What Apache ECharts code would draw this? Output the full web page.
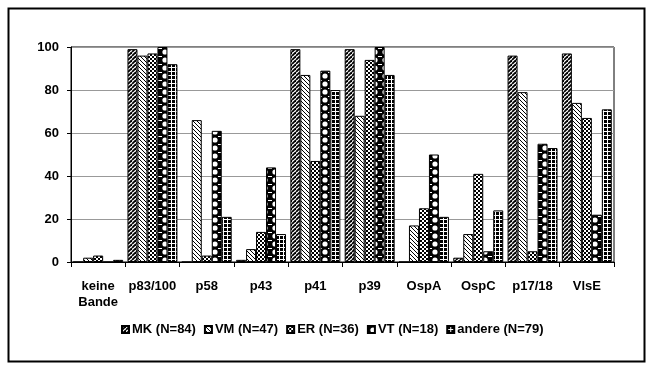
<!DOCTYPE html>
<html><head><meta charset="utf-8">
<script src="https://cdn.jsdelivr.net/npm/echarts@6/dist/echarts.min.js"></script>
<style>html,body{margin:0;padding:0;background:#fff}#c{width:658px;height:375px}</style>
</head><body><div id="c"></div>
<script>
const categories = ['keine\nBande','p83/100','p58','p43','p41','p39','OspA','OspC','p17/18','VlsE'];
const seriesNames = ['MK (N=84)','VM (N=47)','ER (N=36)','VT (N=18)','andere (N=79)'];
const MK     = [0, 99, 0, 1, 99, 99, 0, 2, 96, 97];
const VM     = [2, 96, 66, 6, 87, 68, 17, 13, 79, 74];
const ER     = [3, 97, 3, 14, 47, 94, 25, 41, 5, 67];
const VT     = [0, 100, 61, 44, 89, 100, 50, 5, 55, 22];
const andere = [1, 92, 21, 13, 80, 87, 21, 24, 53, 71];
const yTicks = [0, 20, 40, 60, 80, 100];

function mk(w,h,draw){const c=document.createElement('canvas');c.width=w;c.height=h;const g=c.getContext('2d');draw(g,w,h);return {image:c,repeat:'repeat'};}
const patMK = mk(4,4,(g)=>{g.fillStyle='#fff';g.fillRect(0,0,4,4);g.strokeStyle='#000';g.lineWidth=1.8;
  for(let k=-8;k<=8;k+=4){g.beginPath();g.moveTo(k,4);g.lineTo(k+4,0);g.stroke();}});
const patVM = mk(4,4,(g)=>{g.fillStyle='#fff';g.fillRect(0,0,4,4);g.strokeStyle='#000';g.lineWidth=1;
  for(let k=-8;k<=8;k+=4){g.beginPath();g.moveTo(k,0);g.lineTo(k+4,4);g.stroke();}});
const patER = mk(4,4,(g)=>{g.fillStyle='#fff';g.fillRect(0,0,4,4);g.fillStyle='#000';g.fillRect(0,0,2,2);g.fillRect(2,2,2,2);});
const patVT = mk(10,8,(g)=>{g.fillStyle='#000';g.fillRect(0,0,10,8);g.fillStyle='#fff';
  g.beginPath();g.arc(5,4,2.6,0,Math.PI*2);g.fill();g.fillRect(0,0,2,1);g.fillRect(8,0,2,1);});
const patAN = mk(4,4,(g)=>{g.fillStyle='#000';g.fillRect(0,0,4,4);g.fillStyle='#fff';g.fillRect(3,0,1,4);g.fillRect(0,3,4,1);});
const pats = [patMK, patVM, patER, patVT, patAN];
const datas = [MK, VM, ER, VT, andere];

const chart = echarts.init(document.getElementById('c'), null, {renderer:'canvas'});
const font = {fontFamily:'Liberation Sans, Arial, sans-serif', fontWeight:'bold', fontSize:13, color:'#000'};
chart.setOption({
  animation:false,
  backgroundColor:'#fff',
  graphic:[{type:'rect', shape:{x:8.5,y:8.5,width:636,height:353}, style:{fill:'none',stroke:'#000',lineWidth:2}, z:100}],
  grid:{left:71,right:44,top:47,bottom:113,show:true,borderColor:'#000',borderWidth:1},
  legend:{top:318,left:116,itemWidth:7,itemHeight:7,itemGap:8,icon:'rect',
    textStyle:Object.assign({},font,{padding:[0,0,0,-2]}), data:seriesNames},
  xAxis:{type:'category',data:categories,boundaryGap:true,
    axisLine:{show:true,lineStyle:{color:'#000',width:1}},
    axisTick:{show:true,alignWithLabel:false,length:5,lineStyle:{color:'#000'}},
    axisLabel:Object.assign({},font,{margin:16,lineHeight:16,interval:0})},
  yAxis:{type:'value',min:0,max:100,interval:20,
    axisLine:{show:true,lineStyle:{color:'#000'}},
    axisTick:{show:true,length:4,lineStyle:{color:'#000'}},
    axisLabel:Object.assign({},font,{margin:12}),
    splitLine:{show:true,lineStyle:{color:'#999',width:1}}},
  series: datas.map((d,i)=>({type:'bar',name:seriesNames[i],data:d,barGap:'0%',barCategoryGap:'8%',
    itemStyle:{color:pats[i],borderColor:'#000',borderWidth:1}}))
});
</script></body></html>
